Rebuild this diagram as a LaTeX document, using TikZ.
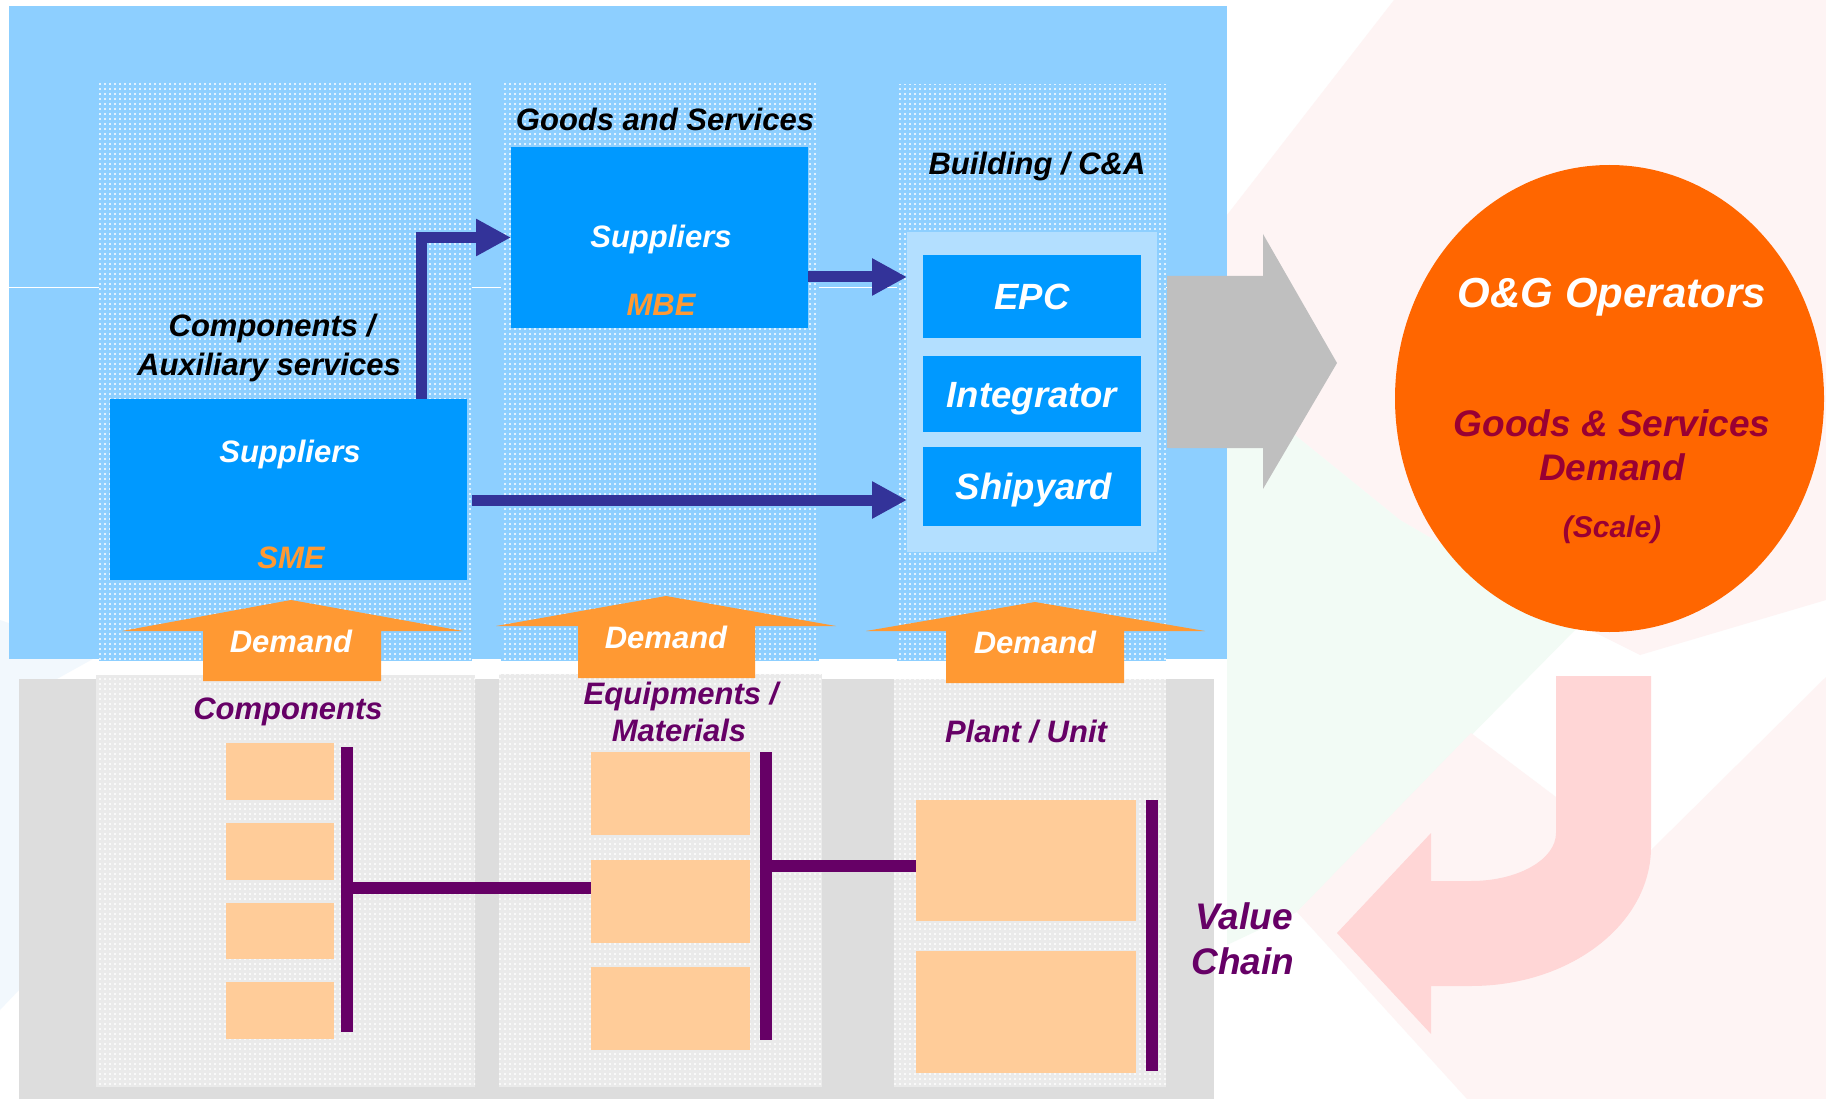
\documentclass[tikz,border=0pt]{standalone}
\usepackage{fontspec}
\setmainfont{Liberation Sans}
\usetikzlibrary{arrows.meta,shapes.geometric,patterns.meta,calc}
\definecolor{bgblue}{RGB}{141,207,255}
\definecolor{panelblue}{RGB}{179,223,255}
\definecolor{boxblue}{RGB}{0,153,255}
\definecolor{darrowc}{RGB}{51,51,153}
\definecolor{demandor}{RGB}{255,153,51}
\definecolor{grayarrow}{RGB}{191,191,191}
\definecolor{graybg}{RGB}{221,221,221}
\definecolor{graycol}{RGB}{234,234,234}
\definecolor{peach}{RGB}{255,204,153}
\definecolor{purp}{RGB}{102,0,102}
\definecolor{circor}{RGB}{255,102,0}
\definecolor{dred}{RGB}{153,0,51}
\definecolor{pinkarrow}{RGB}{255,214,214}
\definecolor{wmpink}{RGB}{254,244,244}
\definecolor{wmgreen}{RGB}{242,251,245}
\definecolor{wmblue}{RGB}{242,248,253}
\begin{document}
\begin{tikzpicture}[x=1pt,y=-1pt,
  bx/.style={inner sep=0pt, outer sep=0pt, anchor=north west, draw=none},
  dotblue/.style={fill=bgblue, postaction={pattern={Dots[distance=5pt,radius=1.1pt]}, pattern color=white}},
  dotgray/.style={fill=graycol, postaction={pattern={Dots[distance=5pt,radius=1.1pt]}, pattern color=white}},
  txt/.style={inner sep=0pt, anchor=base, font=\bfseries\itshape\fontsize{31}{36}\selectfont},
  bigtxt/.style={txt, font=\bfseries\itshape\fontsize{36.5}{42}\selectfont},
  darrow/.style={draw=darrowc, line width=11pt, -{Triangle[length=35pt,width=35pt]}},
  pbar/.style={draw=purp, line width=12pt},
  demarrow/.style={fill=demandor}
]
\useasboundingbox (0,0) rectangle (1826,1099);
\fill[white] (0,0) rectangle (1826,1099);
% faint watermark background
\fill[wmpink] (1394,0) -- (1826,0) -- (1826,600) -- (1640,655) -- (1580,625) -- (1400,520) -- (1227,380) -- (1227,215) -- cycle;
\fill[wmgreen] (1227,380) -- (1400,520) -- (1580,625) -- (1297,912) -- (1227,945) -- cycle;
\fill[wmpink] (1297,912) -- (1471,733) -- (1560,800) -- (1651,850) -- (1826,677) -- (1826,1099) -- (1467,1099) -- cycle;
\fill[wmblue] (0,620) -- (100,655) -- (19,700) -- (19,990) -- (0,1010) -- cycle;

% top blue area
\node[bx, fill=bgblue, minimum width=1218pt, minimum height=653pt] (topbg) at (9,6) {};
\draw[white, line width=1pt] (9,288) -- (1227,288);
\node[bx, dotblue, minimum width=373pt, minimum height=580pt] (col1) at (99,81) {};
\node[bx, dotblue, minimum width=318pt, minimum height=580pt] (col2) at (501,81) {};
\node[bx, dotblue, minimum width=269pt, minimum height=576pt] (col3) at (897,85) {};

% bottom gray area
\node[bx, fill=graybg, minimum width=1195pt, minimum height=420pt] (botbg) at (19,679) {};
\node[bx, dotgray, minimum width=379pt, minimum height=412pt] (bcol1) at (96,675) {};
\node[bx, dotgray, minimum width=323pt, minimum height=413pt] (bcol2) at (499,674) {};
\node[bx, dotgray, minimum width=272pt, minimum height=408pt] (bcol3) at (894,679) {};

% building panel and boxes
\node[bx, fill=panelblue, minimum width=250pt, minimum height=320pt] (panel) at (907,232) {};
\node[bx, fill=boxblue, minimum width=218pt, minimum height=83pt] (epc) at (923,255) {};
\node[bx, fill=boxblue, minimum width=218pt, minimum height=76pt] (integ) at (923,356) {};
\node[bx, fill=boxblue, minimum width=218pt, minimum height=79pt] (ship) at (923,447) {};
\node[bx, fill=boxblue, minimum width=357pt, minimum height=181pt] (sme) at (110,399) {};
\node[bx, fill=boxblue, minimum width=297pt, minimum height=181pt] (mbe) at (511,147) {};

% texts top
\node[txt] (tgs) at (665,131) {Goods and Services};
\node[txt] (tbuild) at (1037,175) {Building / C\&A};
\node[txt] (tcomp1) at (272,337) {Components /};
\node[txt] (tcomp2) at (269,375) {Auxiliary services};
\node[txt, white] (tsup1) at (290,462) {Suppliers};
\node[txt, demandor] (tsme) at (291,568) {SME};
\node[txt, white] (tsup2) at (661,248) {Suppliers};
\node[txt, demandor] (tmbe) at (661,316) {MBE};
\node[bigtxt, white] (tepc) at (1032,310) {EPC};
\node[bigtxt, white] (tinteg) at (1032,407) {Integrator};
\node[bigtxt, white] (tship) at (1034,499) {Shipyard};

% dark blue arrows
\coordinate (ya) at (0,277);
\coordinate (yb) at (0,500);
\draw[darrow] ([xshift=132.5pt]sme.north) |- (mbe.west);
\draw[darrow] (mbe.east |- ya) -- (panel.west |- ya);
\draw[darrow] ([xshift=5pt]sme.east |- yb) -- (panel.west |- yb);

% gray block arrow to operators
\fill[grayarrow] (1167,276) -- (1263,276) -- (1263,234) -- (1337,363) -- (1263,489) -- (1263,448) -- (1167,448) -- cycle;

% demand arrows
\fill[demarrow] (203,681) -- (203,631) -- (122,631) -- (291,600) -- (463,631) -- (381,631) -- (381,681) -- cycle;
\fill[demarrow] (578,678) -- (578,626) -- (496,626) -- (666,596) -- (836,626) -- (755,626) -- (755,678) -- cycle;
\fill[demarrow] (946,683) -- (946,631) -- (866,631) -- (1035,602) -- (1205,631) -- (1124,631) -- (1124,683) -- cycle;
\node[txt, white] (d1) at (291,652) {Demand};
\node[txt, white] (d2) at (666,648) {Demand};
\node[txt, white] (d3) at (1035,653) {Demand};

% bottom labels
\node[txt, purp] (tcomps) at (288,719) {Components};
\node[txt, purp] (tequip1) at (681,704) {Equipments /};
\node[txt, purp] (tequip2) at (679,741) {Materials};
\node[txt, purp] (tplant) at (1026,742) {Plant / Unit};

% peach boxes
\node[bx, fill=peach, minimum width=108pt, minimum height=57pt] (a1) at (226,743) {};
\node[bx, fill=peach, minimum width=108pt, minimum height=57pt] (a2) at (226,823) {};
\node[bx, fill=peach, minimum width=108pt, minimum height=56pt] (a3) at (226,903) {};
\node[bx, fill=peach, minimum width=108pt, minimum height=57pt] (a4) at (226,982) {};
\node[bx, fill=peach, minimum width=159pt, minimum height=83pt] (b1) at (591,752) {};
\node[bx, fill=peach, minimum width=159pt, minimum height=83pt] (b2) at (591,860) {};
\node[bx, fill=peach, minimum width=159pt, minimum height=83pt] (b3) at (591,967) {};
\node[bx, fill=peach, minimum width=220pt, minimum height=121pt] (c1) at (916,800) {};
\node[bx, fill=peach, minimum width=220pt, minimum height=122pt] (c2) at (916,951) {};

% purple bars
\coordinate (p1t) at (347,747);
\coordinate (p1b) at (347,1032);
\coordinate (p1m) at (347,888);
\coordinate (p2t) at (766,752);
\coordinate (p2b) at (766,1040);
\coordinate (p2m) at (766,866);
\coordinate (p3t) at (1151.5,800);
\coordinate (p3b) at (1151.5,1071);
\draw[pbar] (p1t) -- (p1b);
\draw[pbar] (p1m) -- (b2.west |- p1m);
\draw[pbar] (p2t) -- (p2b);
\draw[pbar] (p2m) -- (c1.west |- p2m);
\draw[pbar] (p3t) -- (p3b);

% value chain
\node[txt, purp, font=\bfseries\itshape\fontsize{37}{42}\selectfont] (tval1) at (1244,929.5) {Value};
\node[txt, purp, font=\bfseries\itshape\fontsize{37}{42}\selectfont] (tval2) at (1243,974) {Chain};

% operators circle
\node[ellipse, fill=circor, draw=none, inner sep=0pt, minimum width=429pt, minimum height=467pt] (ops) at (1609.5,398.5) {};
\node[txt, white, font=\bfseries\itshape\fontsize{42}{48}\selectfont] (topg) at (1612,308) {O\&G Operators};
\node[txt, dred, font=\bfseries\itshape\fontsize{37}{42}\selectfont] (tgsd1) at (1612,436) {Goods \& Services};
\node[txt, dred, font=\bfseries\itshape\fontsize{37}{42}\selectfont] (tgsd2) at (1612,480) {Demand};
\node[txt, dred, font=\bfseries\itshape\fontsize{30}{36}\selectfont] (tscale) at (1612,537) {(Scale)};

% pink curved arrow
\fill[pinkarrow] (1556,676) -- (1556,833) .. controls (1556,859.5) and (1518,881) .. (1471,881) -- (1431,881) -- (1431,833) -- (1337,933) -- (1431,1034) -- (1431,986) -- (1471,986) .. controls (1570.4,986) and (1651,923.8) .. (1651,847) -- (1651,676) -- cycle;
\end{tikzpicture}
\end{document}
